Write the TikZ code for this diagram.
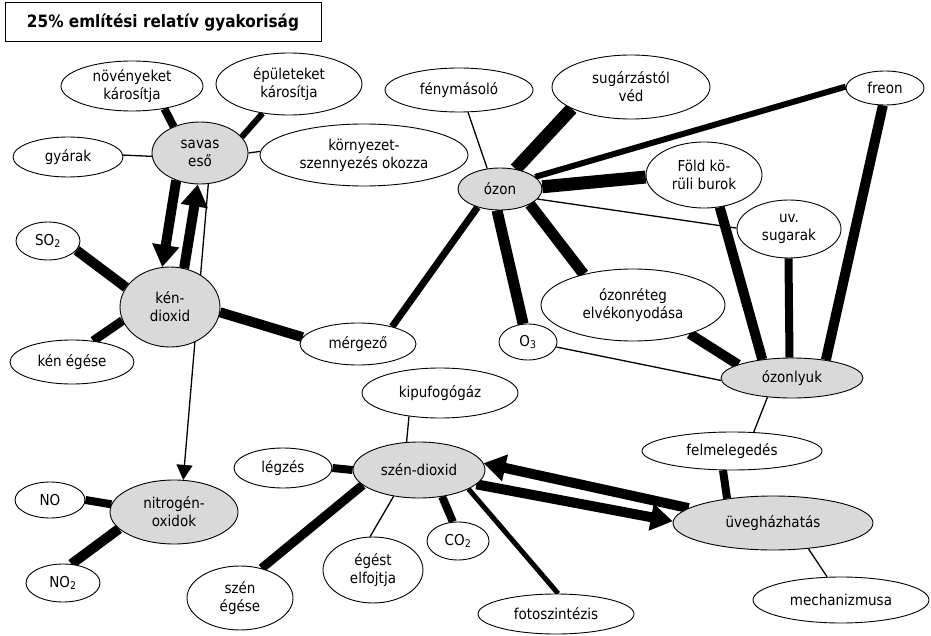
\documentclass[tikz,border=0pt]{standalone}
\usepackage{fontspec}
\setmainfont{DejaVu Sans Condensed}
\usepackage{xcolor}
\usepackage{tikz}
\usetikzlibrary{shapes.geometric, arrows.meta, backgrounds}
\definecolor{hubgray}{RGB}{217, 217, 217}

\begin{document}
\begin{tikzpicture}[
    x=1pt, y=-1pt,
    idea/.style={draw, ellipse, fill=white, line width=0.9pt, inner xsep=-30pt, inner ysep=-8pt, align=center, font=\fontsize{15}{18}\selectfont},
    hub/.style={idea, fill=hubgray},
    sz/.style 2 args={minimum width=#1pt, minimum height=#2pt},
    link/.style={line width=#1pt},
    bigarrow/.style={line width=10pt, -{Triangle[length=22pt, width=26pt]}},
    thinarrow/.style={line width=1.3pt, -{Triangle[length=15pt, width=16pt]}}
]
    \useasboundingbox (0,0) rectangle (931,636);

    % Title
    \node[draw, line width=1pt, minimum width=316pt, minimum height=39pt, font=\bfseries\fontsize{17}{20}\selectfont] (title) at (163,22.5) {25\% említési relatív gyakoriság};

    % Savas eso and ken-dioxid
    \node[idea, sz={142}{50}] (nov) at (132,86) {növényeket\\károsítja};
    \node[idea, sz={146}{62}] (epu) at (289,84) {épületeket\\károsítja};
    \node[idea, sz={110}{40}] (gyar) at (68,157) {gyárak};
    \node[hub, sz={96}{62}] (savas) at (200,153) {savas\\eső};
    \node[idea, sz={208}{62}] (korny) at (364,155) {környezet-\\szennyezés okozza};
    \node[idea, sz={64}{38}] (so2) at (48,241) {SO\textsubscript{2}};
    \node[hub, sz={100}{80}] (ken) at (170,307) {kén-\\dioxid};
    \node[idea, sz={124}{44}] (kenege) at (72,362) {kén égése};
    \node[idea, sz={116}{42}] (merg) at (358,344) {mérgező};
    \node[hub, sz={128}{64}] (nitro) at (174,512) {nitrogén-\\oxidok};
    \node[idea, sz={70}{36}] (no) at (50,500) {NO};
    \node[idea, sz={74}{38}] (no2) at (63,583) {NO\textsubscript{2}};

    % Szen-dioxid
    \node[idea, sz={98}{40}] (legz) at (283,468) {légzés};
    \node[idea, sz={106}{64}] (szenege) at (240,598) {szén\\égése};
    \node[idea, sz={156}{50}] (kipu) at (440,393) {kipufogógáz};
    \node[hub, sz={132}{56}] (szen) at (419,470) {szén-dioxid};
    \node[idea, sz={100}{66}] (egest) at (373,570) {égést\\elfojtja};
    \node[idea, sz={62}{38}] (co2) at (458,541) {CO\textsubscript{2}};
    \node[idea, sz={156}{40}] (foto) at (556,614) {fotoszintézis};

    % Ozon
    \node[idea, sz={148}{44}] (feny) at (459,90) {fénymásoló};
    \node[idea, sz={158}{64}] (sugar) at (631,87) {sugárzástól\\véd};
    \node[hub, sz={84}{42}] (ozon) at (500,189) {ózon};
    \node[idea, sz={78}{34}] (freon) at (885,88) {freon};
    \node[idea, sz={116}{66}] (fold) at (704,175) {Föld kö-\\rüli burok};
    \node[idea, sz={104}{58}] (uv) at (789,229) {uv.\\sugarak};
    \node[idea, sz={184}{72}] (reteg) at (633,305) {ózonréteg\\elvékonyodása};
    \node[idea, sz={58}{36}] (o3) at (528,342) {O\textsubscript{3}};
    \node[hub, sz={142}{40}] (lyuk) at (792,378) {ózonlyuk};
    \node[idea, sz={180}{38}] (felm) at (732,451) {felmelegedés};
    \node[hub, sz={200}{54}] (uveg) at (773,523) {üvegházhatás};
    \node[idea, sz={176}{46}] (mech) at (841,600) {mechanizmusa};

    \begin{scope}[on background layer]
        % Links, width = frequency
        \draw[link=8] (nov.-35) -- (savas.135);
        \draw[link=6] (epu.-132) -- (savas.21);
        \draw[link=1.3] (gyar.2) -- (savas.184);
        \draw[link=1.3] (savas.east) -- (korny.178);
        \draw[link=10] (so2.-18) -- (ken.156);
        \draw[link=9] (kenege.45) -- (ken.196);
        \draw[link=10] (ken.-6) -- (merg.173);
        \draw[link=7] (merg.27) -- (ozon.219);
        \draw[link=8] (no.east) -- (nitro.173);
        \draw[link=10] (no2.66) -- (nitro.197);
        \draw[link=1.3] (feny.-68) -- (ozon.122);
        \draw[link=13] (ozon.52) -- (sugar.200);
        \draw[link=6] (ozon.19) -- (freon.178);
        \draw[link=13] (ozon.3) -- (fold.182);
        \draw[link=1.3] (ozon.-15) -- (uv.179);
        \draw[link=11] (ozon.-27) -- (reteg.148);
        \draw[link=11] (ozon.-98) -- (o3.105);
        \draw[link=10] (fold.-64) -- (lyuk.148);
        \draw[link=8] (uv.-91) -- (lyuk.97);
        \draw[link=10] (freon.-97) -- (lyuk.28);
        \draw[link=10] (reteg.-27) -- (lyuk.166);
        \draw[link=1.3] (o3.-10) -- (lyuk.182);
        \draw[link=1.3] (lyuk.-142) -- (felm.41);
        \draw[link=8] (felm.-115) -- (uveg.152);
        \draw[link=1.3] (uveg.-36) -- (mech.121);
        \draw[link=1.3] (kipu.-143) -- (szen.114);
        \draw[link=8] (legz.east) -- (szen.west);
        \draw[link=9] (szen.195) -- (szenege.54);
        \draw[link=1.3] (szen.-134) -- (egest.95);
        \draw[link=8] (szen.-49) -- (co2.105);
        \draw[link=5] (szen.-21) -- (foto.84);

        % Arrows
        \draw[bigarrow] (savas.-131) -- (ken.101);
        \draw[bigarrow] (ken.70) -- (savas.-94);
        \draw[thinarrow] (savas.-75) -- (nitro.74);
        \draw[bigarrow] (uveg.170) -- (szen.6);
        \draw[bigarrow] (szen.-14) -- (uveg.179);
    \end{scope}
\end{tikzpicture}
\end{document}
